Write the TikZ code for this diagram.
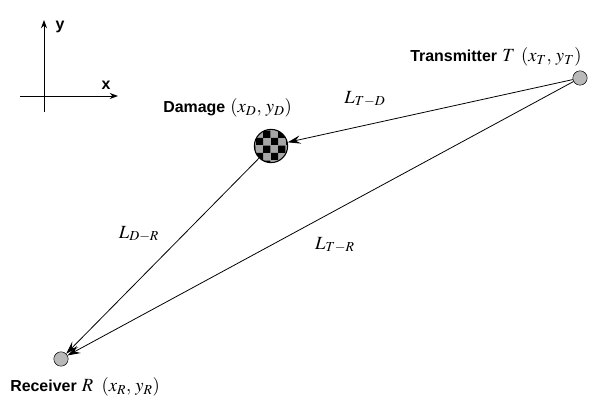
\documentclass[tikz,border=0pt]{standalone}
\usepackage{mathptmx}
\usepackage{fontspec}
\setsansfont{Liberation Sans}
\usetikzlibrary{arrows.meta,positioning,patterns}
\newcommand{\mathbig}[1]{{\fontsize{14}{16}\selectfont$#1$}}

\begin{document}
\begin{tikzpicture}[
  x=0.02646cm, y=-0.02646cm,
  font=\fontsize{12}{14}\selectfont,
  station/.style={
    circle,
    draw,
    fill=gray!55,
    minimum size=0.38cm,
    inner sep=0pt
  },
  damage/.style={
    circle,
    draw,
    thick,
    minimum size=0.88cm,
    inner sep=0pt,
    preaction={fill=gray!70},
    pattern=checkerboard
  },
  caption/.style={font=\fontsize{12}{14}\selectfont\sffamily\bfseries},
  arrow/.style={-{Stealth[length=3.4mm,width=2.2mm,inset=1.3mm]},semithick},
  axis/.style={-{Stealth[length=2.2mm,width=1.6mm]},semithick}
]
  \useasboundingbox (0,0) rectangle (593,401);
  % coordinate axes
  \coordinate (origin) at (44,96);
  \draw[axis] (origin) ++(0,16) -- ++(0,-92) coordinate (ytip);
  \draw[axis] (origin) ++(-24,0) -- ++(98,0) coordinate (xtip);
  \node[caption] (ylabel) at (60,27) {y};
  \node[caption] (xlabel) at (106,85) {x};
  % stations and damage
  \node[station] (tx) at (580,78) {};
  \node[station] (rx) at (61,359) {};
  \node[damage] (dmg) at (271,146) {};
  \node[anchor=base west,inner sep=0pt] (txlabel) at (410,62)
    {\textsf{\bfseries Transmitter} \mathbig{T\;\,(x_{T},\,y_{T})}};
  \node[anchor=base west,inner sep=0pt] (dmglabel) at (163,113)
    {\textsf{\bfseries Damage} \mathbig{(x_{D},\,y_{D})}};
  \node[anchor=base west,inner sep=0pt] (rxlabel) at (10,392)
    {\textsf{\bfseries Receiver} \mathbig{R\;\;(x_{R},\,y_{R})}};
  % paths
  \draw[arrow] (tx) -- (dmg);
  \draw[arrow] (dmg) -- (rx);
  \draw[arrow] (tx) -- (rx);
  \node (ltd) at (365,99) {\mathbig{L_{T-D}}};
  \node (ldr) at (139,234) {\mathbig{L_{D-R}}};
  \node (ltr) at (335,245) {\mathbig{L_{T-R}}};
\end{tikzpicture}
\end{document}
